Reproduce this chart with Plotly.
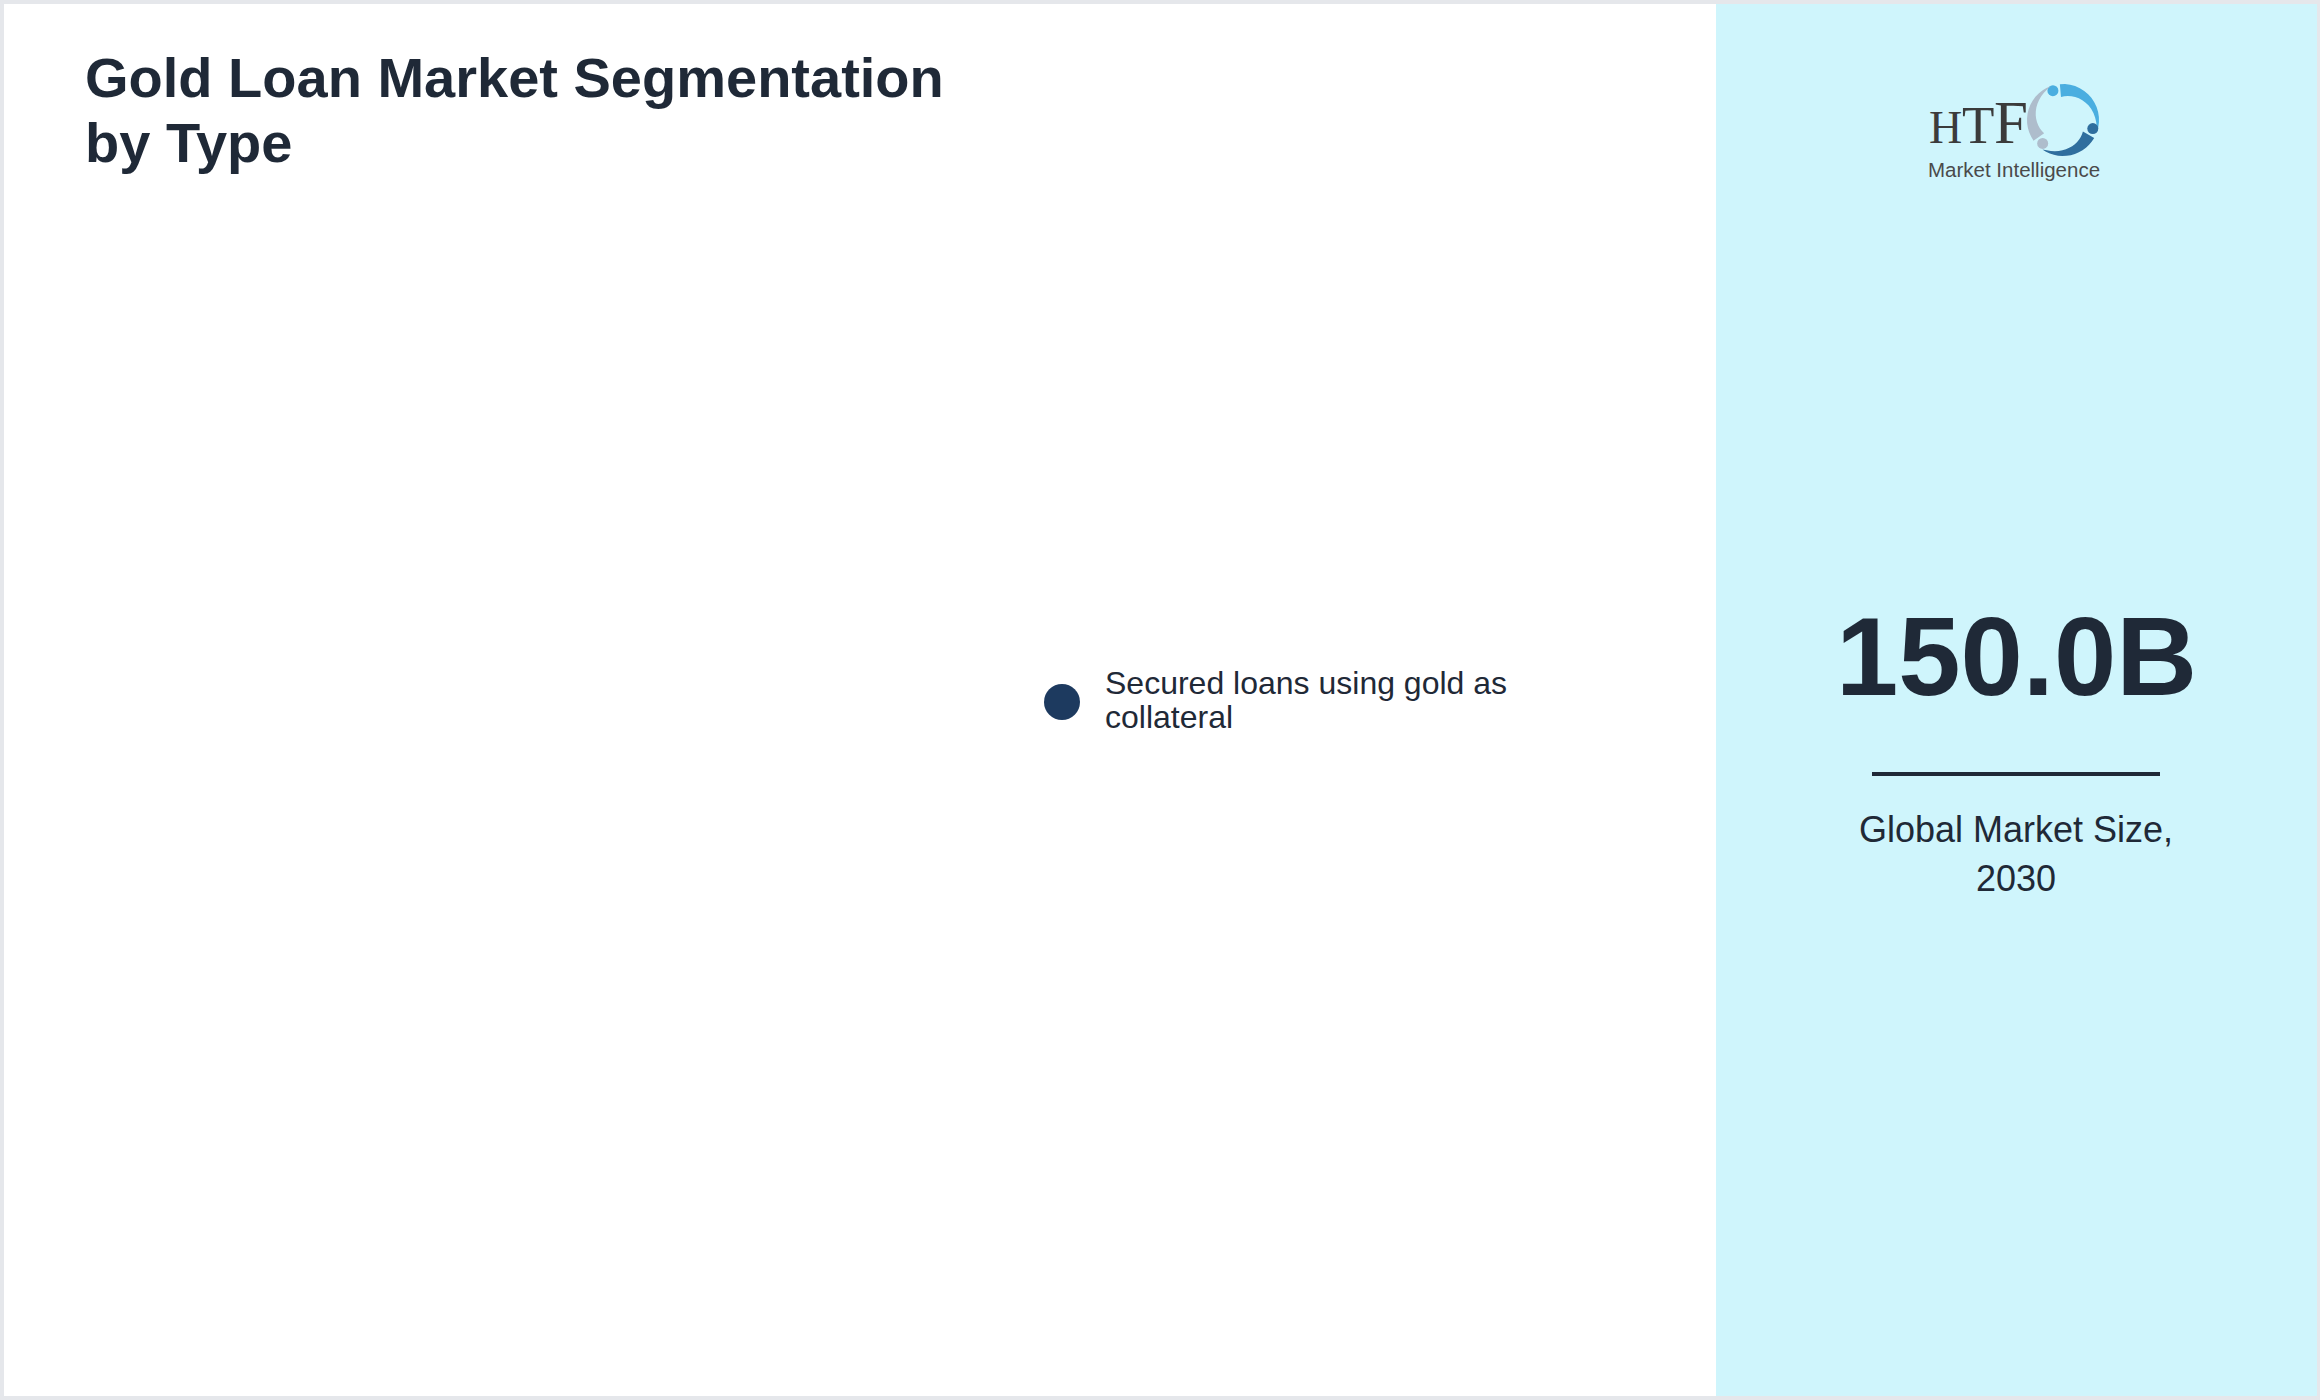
import math
import textwrap
import plotly.graph_objects as go

# ---------------- data ----------------
chart_title_lines = ["Gold Loan Market Segmentation", "by Type"]
segment_labels = ["Secured loans using gold as collateral"]
segment_colors = ["#1d3a5f"]
market_size_value = 150.0   # billions
market_size_unit = "B"
market_size_year = 2030
market_size_caption = "Global Market Size,"
logo_letters = ["H", "T", "F"]
logo_tagline = "Market Intelligence"

# ---------------- layout helpers ----------------
W, H = 2320, 1400
TEXT = "#1f2937"
SANS = "Liberation Sans, Arial, Helvetica, sans-serif"


def px(x):
    return x / W


def py(y):
    return 1 - y / H


shapes = []
annotations = []


def rect(x0, y0, x1, y1, color):
    shapes.append(dict(type="rect", xref="paper", yref="paper",
                       x0=px(x0), x1=px(x1), y0=py(y1), y1=py(y0),
                       fillcolor=color, line=dict(width=0), layer="below"))


def text(s, x, y, size, color=TEXT, anchor="left", bold=False, family=SANS):
    annotations.append(dict(text=s, x=px(x), y=py(y), xref="paper", yref="paper",
                            xanchor=anchor, yanchor="middle", showarrow=False,
                            font=dict(size=size, color=color, family=family,
                                      weight="bold" if bold else "normal")))


# page frame, white card, cyan side panel
rect(4, 4, 1716, 1396, "#ffffff")
rect(1716, 4, 2317, 1396, "#cff5fc")

# title
for i, line in enumerate(chart_title_lines):
    text(line, 83, 77 + i * 66, 56, bold=True)

# legend (manual, large dot)
for k, (lab, col) in enumerate(zip(segment_labels, segment_colors)):
    cy = 702 + k * 80
    shapes.append(dict(type="circle", xref="paper", yref="paper",
                       x0=px(1044), x1=px(1080), y0=py(cy + 18), y1=py(cy - 18),
                       fillcolor=col, line=dict(width=0)))
    for j, ln in enumerate(textwrap.wrap(lab, 27)):
        text(ln, 1103, cy - 19.5 + j * 35, 32)

# big KPI
text(f"{market_size_value:.1f}{market_size_unit}", 2016, 656, 112, anchor="center", bold=True)
shapes.append(dict(type="line", xref="paper", yref="paper",
                   x0=px(1872), x1=px(2160), y0=py(774), y1=py(774),
                   line=dict(color=TEXT, width=4)))
text(market_size_caption, 2016, 829, 36, anchor="center")
text(str(market_size_year), 2016, 878, 36, anchor="center")

# logo: letters
letter_x = [1927, 1960, 1992]
letter_sizes = [46, 53, 61]
for ch, lx, ls in zip(logo_letters, letter_x, letter_sizes):
    text(ch, lx, 143 - ls * 0.331, ls, color="#3b3b3b", family="Liberation Serif, Times New Roman, serif")
text(logo_tagline, 2014, 169, 20.5, color="#4a4a4a", anchor="center")

# logo: three swooshes
cx, cy = 2063, 120


def swoosh(a0, a1, color, head_r=5.5):
    ro, rmin = 36, 23
    n = 14
    outer, inner = [], []
    for i in range(n + 1):
        a = math.radians(a0 + (a1 - a0) * i / n)
        ri = ro - (ro - rmin) * (i / n) ** 0.8
        outer.append((cx + ro * math.cos(a), cy - ro * math.sin(a)))
        inner.append((cx + ri * math.cos(a), cy - ri * math.sin(a)))
    pts = outer + inner[::-1]
    path = "M " + " L ".join(f"{px(x):.6f},{py(y):.6f}" for x, y in pts) + " Z"
    shapes.append(dict(type="path", xref="paper", yref="paper", path=path,
                       fillcolor=color, line=dict(width=0)))
    ah = math.radians(a1 + 14)
    hx, hy = cx + 31 * math.cos(ah), cy - 31 * math.sin(ah)
    shapes.append(dict(type="circle", xref="paper", yref="paper",
                       x0=px(hx - head_r), x1=px(hx + head_r),
                       y0=py(hy + head_r), y1=py(hy - head_r),
                       fillcolor=color, line=dict(width=0)))


swoosh(-20, 95, "#4aaee0")
swoosh(110, 215, "#aebdcc")
swoosh(235, 330, "#2f6e9e")

fig = go.Figure()
fig.update_layout(
    width=W, height=H,
    margin=dict(l=0, r=0, t=0, b=0),
    paper_bgcolor="#e5e7eb",
    plot_bgcolor="rgba(0,0,0,0)",
    xaxis=dict(visible=False),
    yaxis=dict(visible=False),
    showlegend=False,
    shapes=shapes,
    annotations=annotations,
)
fig.write_html(
    "out.html",
    config={"displayModeBar": False},
    post_script="document.body.style.margin='0';document.body.style.overflow='hidden';",
)
